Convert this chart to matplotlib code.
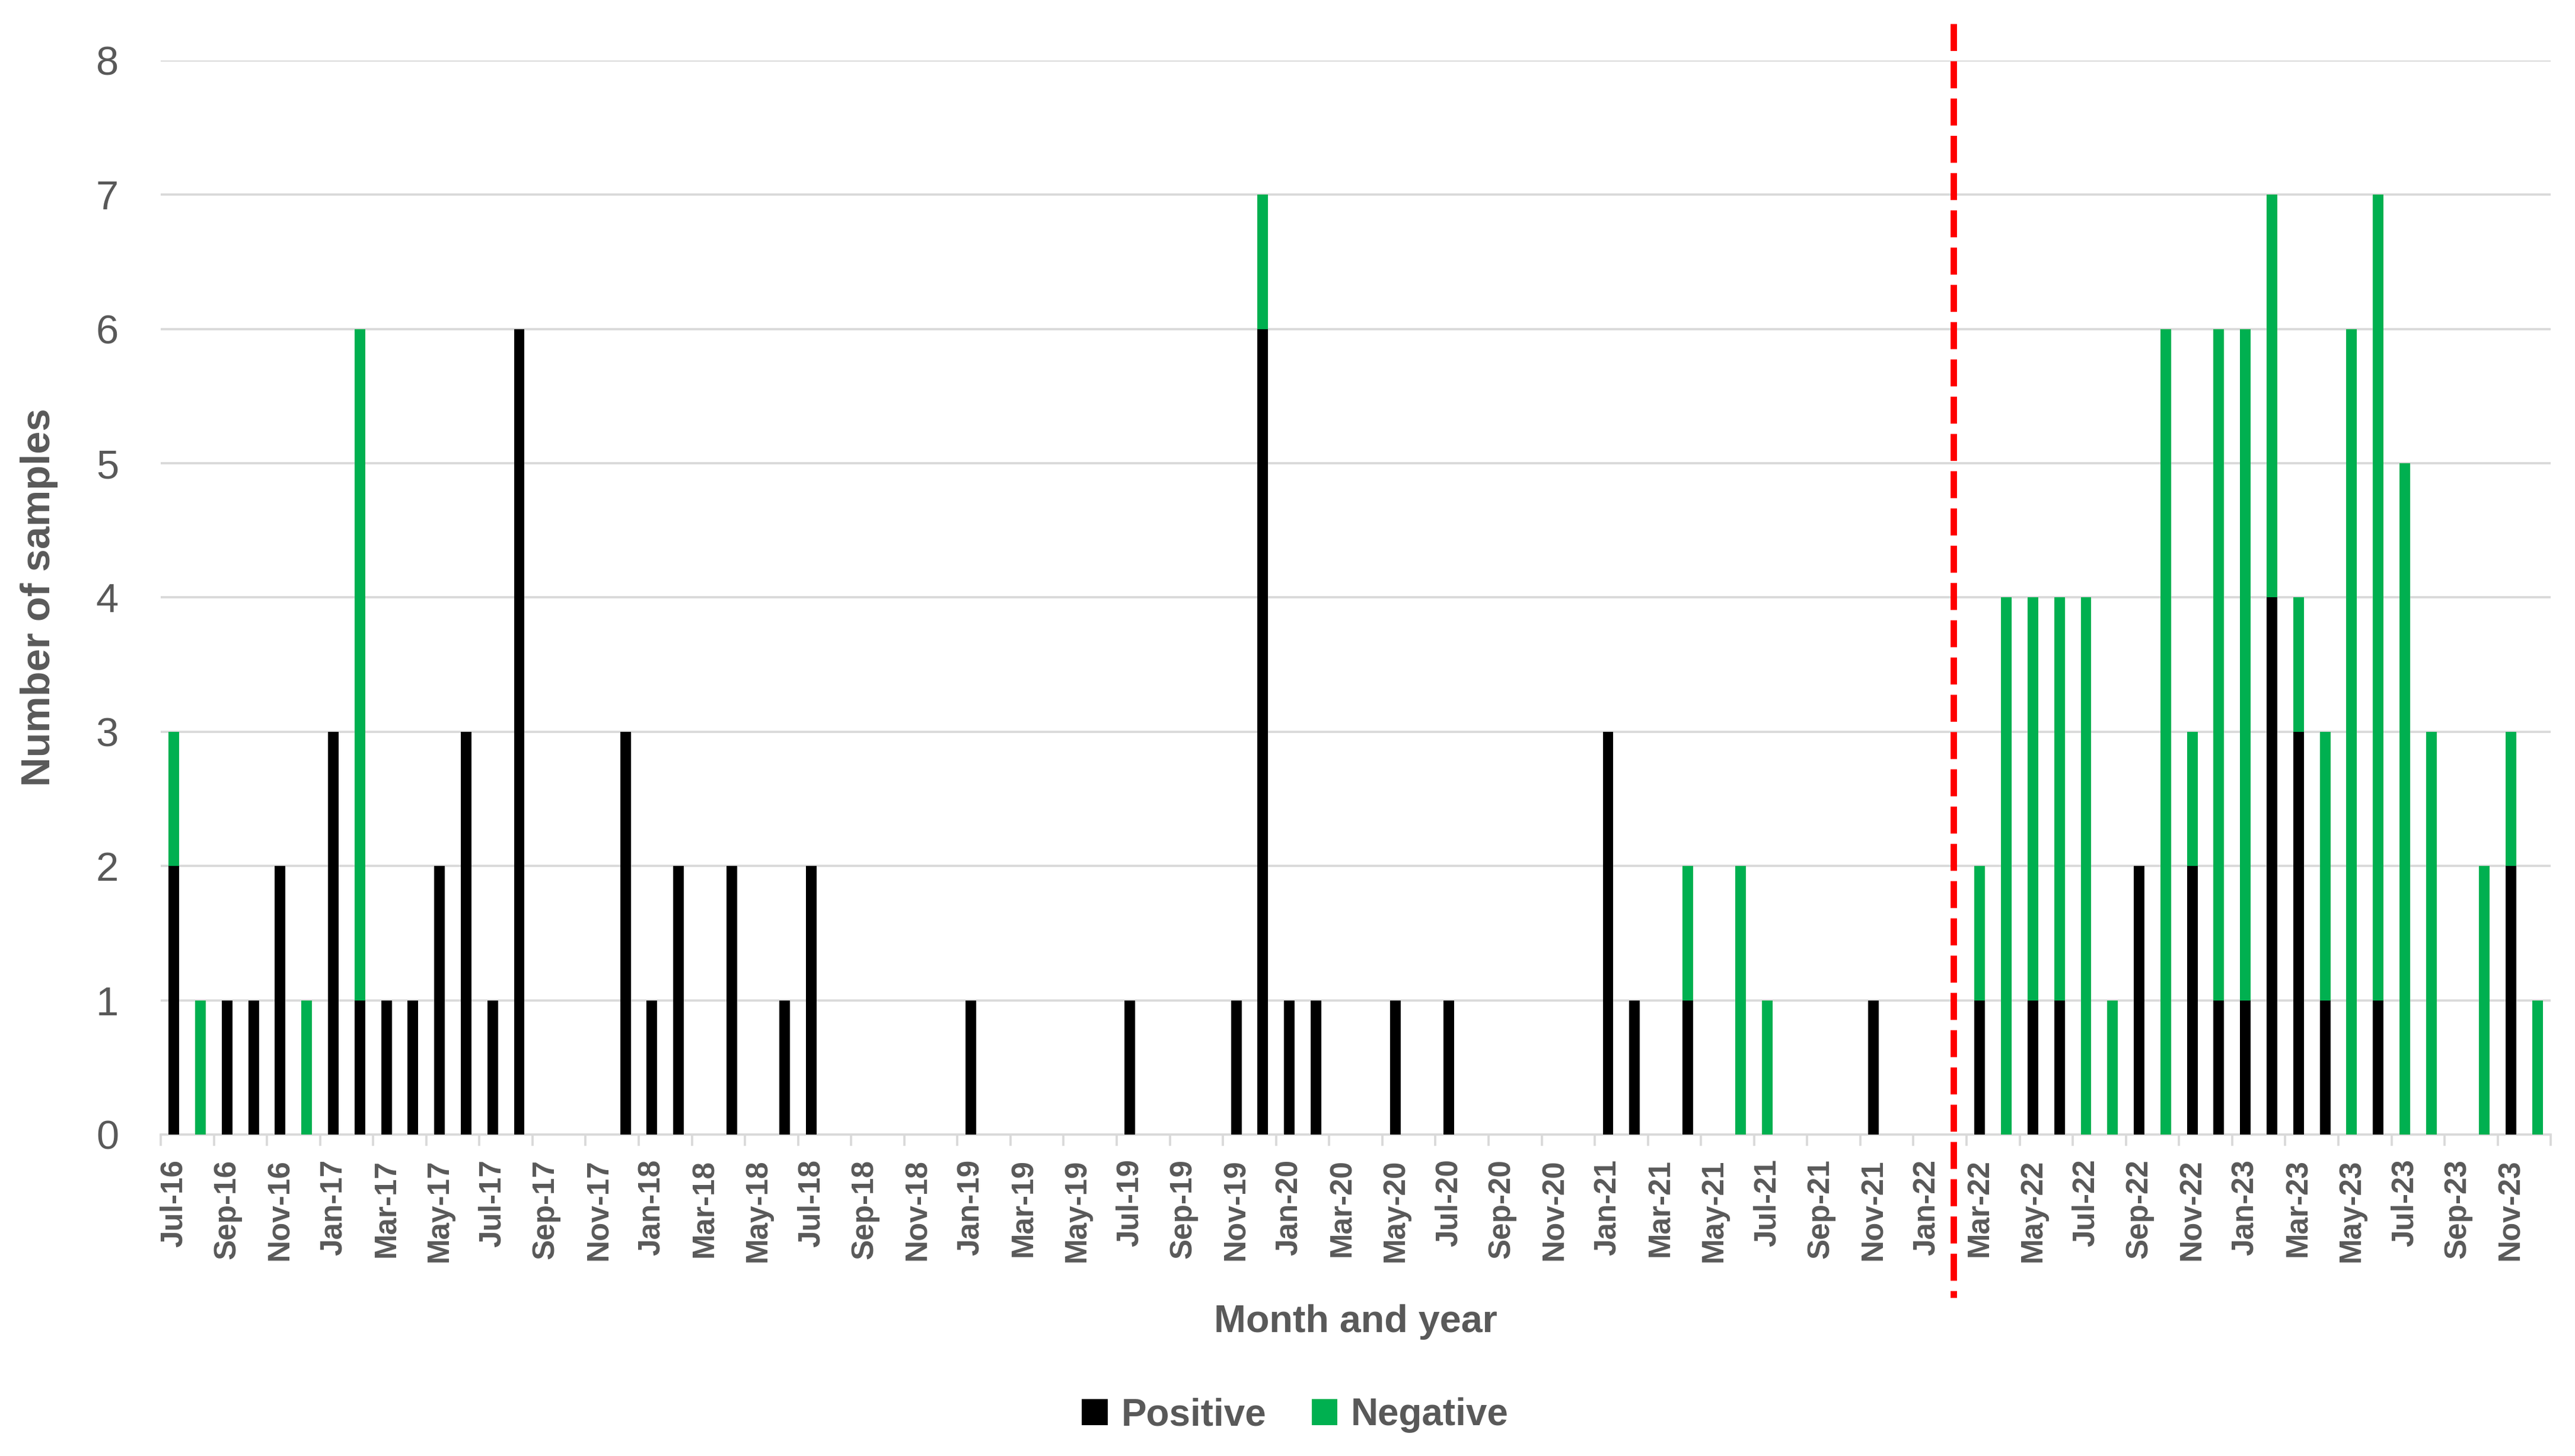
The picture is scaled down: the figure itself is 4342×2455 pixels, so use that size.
import numpy as np
import pandas as pd
import matplotlib
matplotlib.use("Agg")
import matplotlib.pyplot as plt
from matplotlib.ticker import FixedLocator

plt.rcParams['font.family'] = ['Liberation Sans', 'DejaVu Sans']

# Monthly categories Jul-16 .. Dec-23
months = pd.date_range('2016-07-01', periods=90, freq='MS').strftime('%b-%y').tolist()

positive = [2, 0, 1, 1, 2, 0, 3, 1, 1, 1,
            2, 3, 1, 6, 0, 0, 0, 3, 1, 2,
            0, 2, 0, 1, 2, 0, 0, 0, 0, 0,
            1, 0, 0, 0, 0, 0, 1, 0, 0, 0,
            1, 6, 1, 1, 0, 0, 1, 0, 1, 0,
            0, 0, 0, 0, 3, 1, 0, 1, 0, 0,
            0, 0, 0, 0, 1, 0, 0, 0, 1, 0,
            1, 1, 0, 0, 2, 0, 2, 1, 1, 4,
            3, 1, 0, 1, 0, 0, 0, 0, 2, 0]

negative = [1, 1, 0, 0, 0, 1, 0, 5, 0, 0,
            0, 0, 0, 0, 0, 0, 0, 0, 0, 0,
            0, 0, 0, 0, 0, 0, 0, 0, 0, 0,
            0, 0, 0, 0, 0, 0, 0, 0, 0, 0,
            0, 1, 0, 0, 0, 0, 0, 0, 0, 0,
            0, 0, 0, 0, 0, 0, 0, 1, 0, 2,
            1, 0, 0, 0, 0, 0, 0, 0, 1, 4,
            3, 3, 4, 1, 0, 6, 1, 5, 5, 3,
            1, 2, 6, 6, 5, 3, 0, 2, 1, 1]

cutoff_month = 'Feb-22'

text_col = '#595959'
grid_col = '#D9D9D9'
green = '#00B050'

fig = plt.figure(figsize=(4342 / 300, 2455 / 300), dpi=300)
ax = fig.add_axes([0.0624, 0.2208, 0.9282, 0.7377])

x = np.arange(len(months))
ax.bar(x, positive, width=0.4, color='black', label='Positive', zorder=3)
ax.bar(x, negative, width=0.4, bottom=positive, color=green, label='Negative', zorder=3)

ax.set_xlim(-0.5, len(months) - 0.5)
ax.set_ylim(0, 8)
ax.set_yticks(range(0, 9))
ax.yaxis.grid(True, color=grid_col, linewidth=0.9, zorder=0)
ax.tick_params(axis='y', length=0, pad=17, labelsize=16.5, labelcolor=text_col)

# labels every second month, tick marks on the boundaries between pairs
ax.set_xticks(x[::2])
ax.set_xticklabels(months[::2], rotation=90, fontsize=12.3, fontweight='bold', color=text_col)
ax.tick_params(axis='x', which='major', length=0, pad=10)
ax.xaxis.set_minor_locator(FixedLocator(np.arange(-0.5, len(months), 2)))
ax.tick_params(axis='x', which='minor', length=4.5, width=0.9, color=grid_col)

for s in ['top', 'right', 'left']:
    ax.spines[s].set_visible(False)
ax.spines['bottom'].set_color(grid_col)
ax.spines['bottom'].set_linewidth(0.9)

# vertical dashed line marking the change
ax.plot([months.index(cutoff_month)] * 2, [1.034, -0.152], color='red', linewidth=2.6,
        dashes=(4.2, 1.6), transform=ax.get_xaxis_transform(), clip_on=False, zorder=5)

ax.set_ylabel('Number of samples', fontsize=16.5, fontweight='bold', color=text_col)
ax.yaxis.set_label_coords(-0.043, 0.5)
ax.set_xlabel('Month and year', fontsize=15.5, fontweight='bold', color=text_col)
ax.xaxis.set_label_coords(0.5, -0.158)

fig.legend(loc='center', bbox_to_anchor=(0.503, 0.028), ncol=2, frameon=False,
           prop={'size': 15.3, 'weight': 'bold'}, labelcolor=text_col,
           handlelength=0.68, handleheight=0.69, handletextpad=0.36, columnspacing=1.2)

fig.savefig('out.png', dpi=300)
